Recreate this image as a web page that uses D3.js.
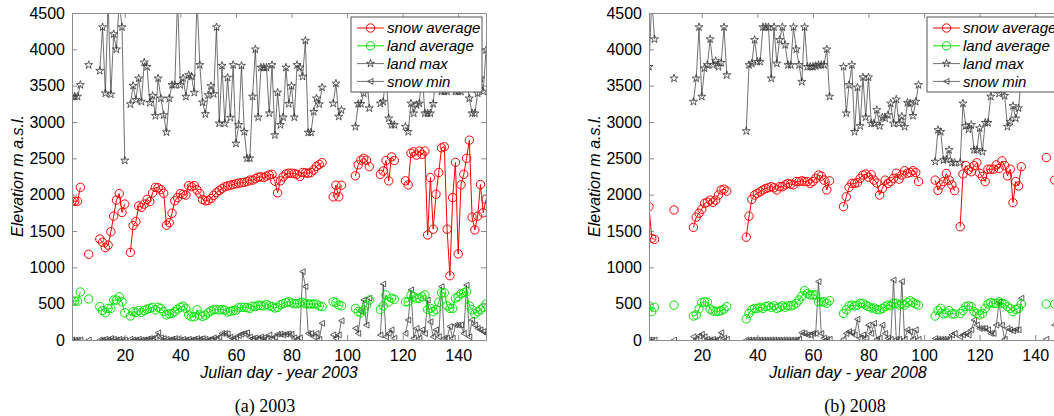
<!DOCTYPE html>
<html>
<head>
<meta charset="utf-8">
<script src="https://cdn.jsdelivr.net/npm/d3@7"></script>
<style>
body { margin: 0; background: #fff; }
</style>
</head>
<body>
<div id="main"></div>
<script>
// ---- 2003 ----
const days2003 = [1,2,3,4,7,
  11,12,13,14,15,16,17,18,19,20,
  22,23,24,25,26,27,28,29,30,31,32,33,34,35,36,37,38,39,40,41,42,43,44,45,46,47,
  48,49,50,51,52,53,54,55,56,57,58,59,60,61,62,63,64,65,66,67,68,69,70,71,72,73,74,75,76,77,78,79,80,81,82,83,84,85,86,87,88,89,90,91,
  95,96,97,98,
  103,104,105,106,107,108,
  112,113,114,115,116,117,
  121,122,123,124,125,126,127,128,129,130,131,132,133,134,135,136,137,138,139,140,141,142,143,144,145,146,147,148,149,150];
const snowAvg2003 = [1910,1910,1910,2100,1180,
  1390,1345,1270,1305,1490,1705,1925,2015,1755,1870,
  1205,1575,1630,1845,1825,1870,1935,1905,2025,2100,2095,2070,2020,1580,1615,1745,1915,1960,2015,2005,1995,2125,2110,2125,2065,2015,
  1935,1915,1920,1945,1990,2030,2055,2085,2110,2120,2130,2140,2150,2160,2165,2170,2180,2200,2200,2220,2240,2245,2235,2255,2270,2280,2185,2025,2190,2245,2285,2295,2295,2290,2280,2250,2305,2300,2295,2305,2340,2390,2415,2440,
  1970,2130,1970,2130,
  2260,2410,2475,2500,2475,2385,
  2280,2325,2470,2190,2520,2470,
  2190,2135,2570,2590,2545,2600,2555,2600,1445,2235,1525,2005,2305,2645,2660,1525,885,1960,2445,1185,2135,2280,2500,2750,1690,1515,1705,2140,1750,1935];
const landAvg2003 = [535,535,535,660,565,
  460,405,375,435,435,550,550,595,525,375,
  330,390,380,405,380,405,425,435,450,415,450,435,390,345,360,365,390,425,450,465,435,345,320,320,415,345,
  325,340,375,400,415,420,415,420,410,385,395,405,410,445,450,450,445,435,465,460,480,475,470,490,470,460,440,450,485,500,515,525,510,500,500,510,520,500,495,495,495,495,470,460,
  525,515,480,470,
  435,390,375,415,480,550,
  420,470,620,525,575,560,
  525,525,620,595,575,575,595,620,420,435,390,420,520,650,650,470,435,435,575,595,635,650,665,470,415,360,390,415,450,495];
const landMax2003 = [3350,3350,3350,3510,3785,
  3705,4305,3395,4650,3380,4210,4000,4650,4305,2470,
  3245,3500,3305,3600,3280,3820,3760,3265,3360,3085,3600,3325,3095,2860,3325,3510,3510,4700,3510,3600,3350,3645,3625,3405,4700,3785,
  3270,3110,3370,3495,3385,4305,2980,3775,2980,3610,3060,3785,2705,2960,3775,2865,2500,2500,3350,4000,3065,3750,3750,3750,3120,3785,2820,3405,2960,3065,3750,3250,3495,3065,3785,3750,3625,4120,2855,2855,3140,3325,3245,3475,
  3255,3530,3075,3165,
  2935,3250,3250,3395,3700,3190,
  3255,3280,3700,3050,2960,2960,
  2935,2865,3255,3120,3235,3255,3700,3120,3120,3120,3250,3700,3600,3420,3420,3420,3600,3700,3420,3420,3420,3500,3600,3325,3120,3120,3395,3600,3420,3990];
const snowMin2003 = [0,0,0,0,0,
  0,0,10,0,20,10,0,10,0,0,
  10,0,0,10,0,0,10,20,20,30,100,30,20,10,0,10,20,10,0,10,0,10,0,10,20,10,
  20,10,0,10,30,20,40,90,90,85,40,20,30,60,80,90,100,40,20,30,20,40,30,20,70,20,40,80,80,70,80,85,80,30,10,30,940,735,90,90,45,90,10,230,
  70,25,70,265,
  160,90,390,550,205,575,
  70,770,45,90,140,25,
  90,275,690,25,160,25,140,90,550,250,45,140,45,735,25,25,185,25,205,205,205,90,755,45,275,205,160,140,115,90];

// ---- 2008 ----
const days2008 = [1,2,3,10,
  17,18,19,20,21,22,23,24,25,26,27,28,29,
  36,37,38,39,40,41,42,43,44,45,46,47,48,49,50,51,52,53,54,55,56,57,58,59,60,61,62,63,64,65,66,
  71,72,73,74,75,76,77,78,79,80,81,82,83,84,85,86,87,88,89,90,91,92,93,94,95,96,97,98,
  104,105,106,107,108,109,110,111,
  113,114,115,116,117,118,119,120,121,122,123,124,125,126,127,128,129,130,131,132,133,134,135,
  144,147];
const snowAvg2008 = [1835,1400,1385,1790,
  1550,1690,1745,1800,1880,1895,1925,1895,1925,1995,2065,2075,2050,
  1415,1705,1935,1995,2020,2040,2065,2085,2095,2110,2095,2065,2110,2110,2135,2155,2145,2135,2180,2180,2190,2180,2180,2155,2180,2225,2270,2255,2200,2065,2190,
  1835,1970,2100,2155,2155,2165,2225,2270,2285,2240,2275,2200,2160,1995,2085,2200,2155,2180,2225,2295,2215,2270,2330,2295,2305,2330,2305,2180,
  2200,2060,2135,2180,2290,2200,2135,2055,
  1560,2285,2400,2340,2315,2400,2440,2295,2250,2180,2350,2350,2350,2410,2360,2465,2400,2260,2350,1890,2180,2120,2385,
  2510,2200];
const landAvg2008 = [470,390,450,480,
  330,345,430,515,525,520,425,400,395,395,405,425,460,
  290,365,415,435,435,450,435,460,470,450,470,435,450,470,450,470,470,480,505,550,605,680,640,620,620,620,525,525,525,505,540,
  365,415,470,480,470,480,505,505,480,460,440,440,420,415,435,460,480,470,505,505,480,495,480,515,540,515,495,480,
  330,405,435,360,370,405,360,360,
  365,405,460,470,460,390,365,345,365,435,495,515,505,505,525,505,495,460,435,390,420,435,495,
  495,495];
const landMax2008 = [3760,4700,4140,3600,
  3280,3600,4305,3350,3740,3785,4140,3785,3840,3760,3815,4305,3645,
  2875,3785,3805,4130,3830,3830,4305,4305,4305,3600,4305,3805,4130,4305,4060,3785,3785,4305,4000,3785,3555,4305,3760,3760,3760,3770,3785,3785,3785,4000,3350,
  3760,3120,3510,3785,2865,3475,2945,3615,3065,3615,2980,2980,3165,2945,3065,3050,3095,3255,2980,3310,2980,3075,2935,3265,3255,3085,3280,3510,
  2455,2890,2865,2475,2485,2615,2440,2440,
  2440,3255,2945,2900,2960,2615,2615,2915,2590,2990,2990,3350,3600,3450,3390,3500,3360,2935,3005,3220,3050,3190,3600,
  3700,3700];
const snowMin2008 = [0,0,0,0,
  45,10,55,80,45,10,0,10,0,10,100,25,10,
  0,0,0,0,0,0,0,0,0,0,0,0,0,0,0,0,0,0,0,10,100,90,70,70,90,90,805,90,25,10,10,
  10,90,115,100,70,285,25,70,25,205,90,230,10,25,205,90,25,10,825,10,10,805,10,140,115,10,140,10,
  20,10,10,10,10,10,70,90,
  45,70,90,70,140,275,205,160,160,160,140,90,90,205,525,205,10,160,140,125,140,140,575,
  10,205];

const seriesNames = ['snow average', 'land average', 'land max', 'snow min'];
const xTicks = [20, 40, 60, 80, 100, 120, 140];
const yTicks = [0, 500, 1000, 1500, 2000, 2500, 3000, 3500, 4000, 4500];

const width = 1054, height = 416;
const plotTop = 13, plotBottom = 340, plotW = 414;
const frameColor = '#8c8c8c';

const styles = [
  { color: '#ff0000', marker: 'circle' },
  { color: '#00e600', marker: 'circle' },
  { color: '#333333', marker: 'star' },
  { color: '#333333', marker: 'triangle' }
];

const triangleLeft = {
  draw(ctx, size) {
    const r = Math.sqrt(size) / 1.6;
    ctx.moveTo(-r, 0);
    ctx.lineTo(r * 0.85, -r);
    ctx.lineTo(r * 0.85, r);
    ctx.closePath();
  }
};

const panels = [
  { left: 72, days: days2003, series: [snowAvg2003, landAvg2003, landMax2003, snowMin2003],
    title: 'Julian day - year 2003', titleX: 279, caption: '(a) 2003', captionX: 265, labelX: 17, legendX: 351 },
  { left: 649, days: days2008, series: [snowAvg2008, landAvg2008, landMax2008, snowMin2008],
    title: 'Julian day - year 2008', titleX: 848, caption: '(b) 2008', captionX: 855, labelX: 594, legendX: 927 }
];

const svg = d3.select('#main').append('svg').attr('width', width).attr('height', height)
  .style('font-family', "'Liberation Sans', Arial, sans-serif");
svg.append('rect').attr('width', width).attr('height', height).attr('fill', '#fff');

const yScale = d3.scaleLinear().domain([0, 4500]).range([plotBottom, plotTop]);

function segments(days, values) {
  const segs = [];
  let cur = [];
  days.forEach((d, i) => {
    if (cur.length && d - cur[cur.length - 1].day > 1) { segs.push(cur); cur = []; }
    cur.push({ day: d, value: values[i] });
  });
  if (cur.length) segs.push(cur);
  return segs;
}

function drawMarker(g, style, x, y) {
  if (style.marker === 'circle') {
    g.append('circle').attr('cx', x).attr('cy', y).attr('r', 4.2)
      .attr('fill', 'none').attr('stroke', style.color).attr('stroke-width', 1);
  } else {
    const type = style.marker === 'star' ? d3.symbolStar : triangleLeft;
    const size = style.marker === 'star' ? 20 : 22;
    g.append('path').attr('transform', `translate(${x},${y})`)
      .attr('d', d3.symbol().type(type).size(size)())
      .attr('fill', 'none').attr('stroke', style.color).attr('stroke-width', 0.8);
  }
}

function drawPanel(p, idx) {
  const xScale = d3.scaleLinear().domain([1, 150]).range([p.left, p.left + plotW]);
  const right = p.left + plotW;

  svg.append('clipPath').attr('id', 'clip' + idx)
    .append('rect').attr('x', p.left).attr('y', plotTop).attr('width', plotW).attr('height', plotBottom - plotTop);

  const plot = svg.append('g').attr('clip-path', `url(#clip${idx})`);
  const line = d3.line().x(d => xScale(d.day)).y(d => yScale(d.value));

  [3, 2, 0, 1].forEach(si => {
    const style = styles[si];
    const isBlack = si >= 2;
    segments(p.days, p.series[si]).forEach(seg => {
      plot.append('path').datum(seg).attr('d', line)
        .attr('fill', 'none').attr('stroke', style.color)
        .attr('stroke-width', isBlack ? 0.7 : 1);
    });
    p.series[si].forEach((v, i) => {
      if (v <= 4500) drawMarker(plot, style, xScale(p.days[i]), yScale(v));
    });
  });

  const styleAxis = g => {
    g.attr('font-size', 16).attr('font-family', "'Liberation Sans', Arial, sans-serif");
    g.selectAll('path, line').attr('stroke', frameColor);
    g.selectAll('text').attr('fill', '#000');
  };

  svg.append('g').attr('transform', `translate(0,${plotBottom})`)
    .call(d3.axisBottom(xScale).tickValues(xTicks).tickSizeInner(-5).tickSizeOuter(0).tickPadding(10))
    .call(styleAxis);
  svg.append('g').attr('transform', `translate(0,${plotTop})`)
    .call(d3.axisTop(xScale).tickValues(xTicks).tickSizeInner(-5).tickSizeOuter(0).tickFormat(''))
    .call(styleAxis);
  svg.append('g').attr('transform', `translate(${p.left},0)`)
    .call(d3.axisLeft(yScale).tickValues(yTicks).tickFormat(d3.format('d'))
      .tickSizeInner(-5).tickSizeOuter(0).tickPadding(7))
    .call(styleAxis);
  svg.append('g').attr('transform', `translate(${right},0)`)
    .call(d3.axisRight(yScale).tickValues(yTicks).tickSizeInner(-5).tickSizeOuter(0).tickFormat(''))
    .call(styleAxis);

  // axis titles
  svg.append('text')
    .attr('x', p.titleX).attr('y', 378)
    .style('font-size', '16px').style('font-style', 'italic')
    .style('text-anchor', 'middle')
    .text(p.title);
  svg.append('text')
    .attr('transform', `translate(${p.labelX + 6},176) rotate(-90)`)
    .style('font-size', '16px').style('font-style', 'italic')
    .style('text-anchor', 'middle')
    .text('Elevation m a.s.l.');
  svg.append('text')
    .attr('x', p.captionX).attr('y', 412)
    .style('font-family', "'Liberation Serif', 'Times New Roman', serif")
    .style('font-size', '18px')
    .style('text-anchor', 'middle')
    .text(p.caption);

  // legend
  const lg = svg.append('g').attr('transform', `translate(${p.legendX},17)`);
  lg.append('rect').attr('width', 131).attr('height', 75)
    .attr('fill', '#fff').attr('stroke', '#555').attr('stroke-width', 1);
  seriesNames.forEach((name, i) => {
    const yy = 11 + i * 17.8;
    const style = styles[i];
    lg.append('line').attr('x1', 6).attr('x2', 33).attr('y1', yy).attr('y2', yy)
      .attr('stroke', style.color).attr('stroke-width', i >= 2 ? 0.7 : 1);
    drawMarker(lg, style, 19.5, yy);
    lg.append('text').attr('x', 36).attr('y', yy).attr('dy', '0.35em')
      .style('font-size', '15px').style('font-style', 'italic')
      .text(name);
  });
}

panels.forEach(drawPanel);
</script>
</body>
</html>
